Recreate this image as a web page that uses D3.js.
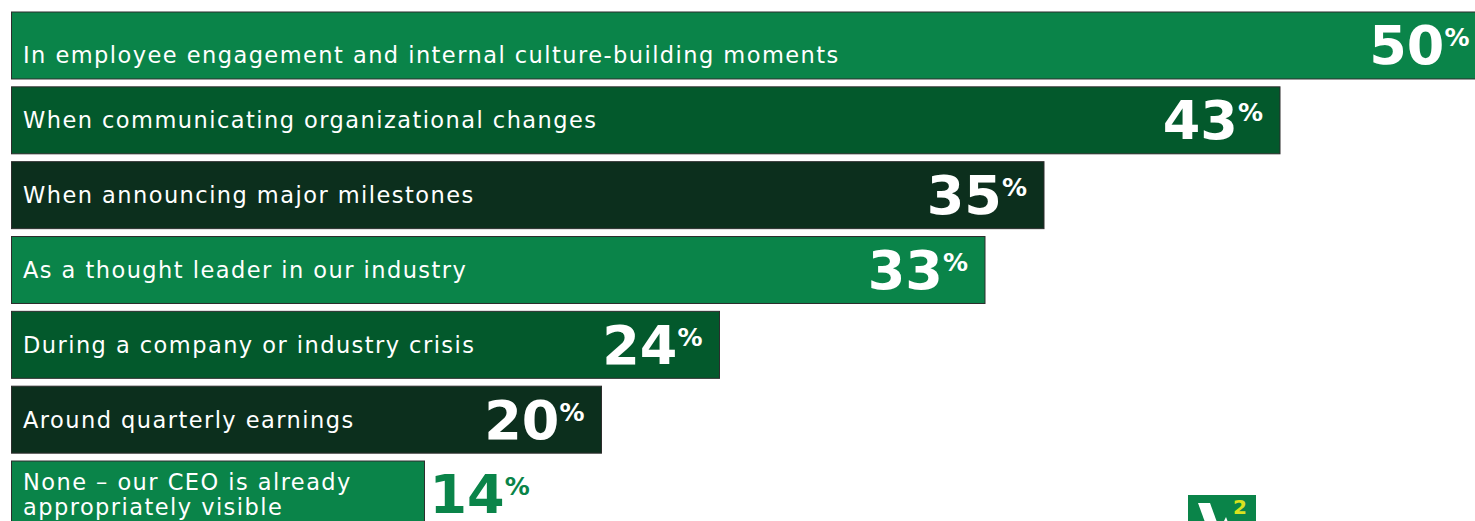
<!DOCTYPE html>
<html>
<head>
<meta charset="utf-8">
<script src="https://cdn.jsdelivr.net/npm/d3@7"></script>
<style>
  html, body { margin: 0; padding: 0; background: #ffffff; }
  svg { display: block; }
</style>
</head>
<body>
<svg id="chart" width="1475" height="521"></svg>
<script>
// Where respondents want their CEO to be more visible
const categories = [
  "In employee engagement and internal culture-building moments",
  "When communicating organizational changes",
  "When announcing major milestones",
  "As a thought leader in our industry",
  "During a company or industry crisis",
  "Around quarterly earnings",
  "None \u2013 our CEO is already appropriately visible"
];
const values = [50, 43, 35, 33, 24, 20, 14];
const labelLines = [
  ["In employee engagement and internal culture-building moments"],
  ["When communicating organizational changes"],
  ["When announcing major milestones"],
  ["As a thought leader in our industry"],
  ["During a company or industry crisis"],
  ["Around quarterly earnings"],
  ["None \u2013 our CEO is already", "appropriately visible"]
];
const palette = ["#0a8449", "#03592c", "#0c2f1d"];

const svg = d3.select("#chart");

const x = d3.scaleLinear().domain([0, 50]).range([11.5, 1486.5]);
const y = d3.scaleBand().domain(categories).range([12, 528]).paddingInner(0.105).paddingOuter(0);
const color = d3.scaleOrdinal().domain(d3.range(3)).range(palette);

const rows = categories.map((c, i) => ({ cat: c, v: values[i], lines: labelLines[i], i }));

const labelFont = "'DejaVu Sans', 'Noto Sans', sans-serif";
const valueFont = "'DejaVu Sans', 'Open Sans', sans-serif";

const g = svg.append("g");

const row = g.selectAll("g.row").data(rows).join("g").attr("class", "row");

row.append("rect")
  .attr("x", x(0))
  .attr("y", d => y(d.cat))
  .attr("width", d => x(d.v) - x(0))
  .attr("height", y.bandwidth())
  .attr("fill", d => color(d.i % 3))
  .attr("stroke", "#2d2d2d")
  .attr("stroke-width", 1);

// category labels
row.each(function(d) {
  const sel = d3.select(this);
  const cy = y(d.cat) + y.bandwidth() / 2;
  const n = d.lines.length;
  const lh = 25;
  const extra = d.i === 0 ? 10 : 0;
  d.lines.forEach((ln, k) => {
    sel.append("text")
      .attr("class", "cat")
      .attr("x", 23)
      .attr("y", cy + 8 + extra + (k - (n - 1) / 2) * lh)
      .attr("fill", "#ffffff")
      .attr("font-family", labelFont)
      .attr("font-size", 22.5)
      .attr("letter-spacing", 1.45)
      .text(ln);
  });
});

// value labels: inside the bar when there is room, otherwise just past its end
row.each(function(d) {
  const sel = d3.select(this);
  const cy = y(d.cat) + y.bandwidth() / 2;
  const labelW = d3.max(sel.selectAll("text.cat").nodes(), n => n.getComputedTextLength());
  const t = sel.append("text")
    .attr("y", cy + 19)
    .attr("font-family", valueFont)
    .attr("font-weight", 700);
  t.append("tspan").attr("font-size", 54).text(d.v);
  t.append("tspan").attr("font-size", 25).attr("dy", -18).text("%");
  const vw = t.node().getComputedTextLength();
  const inside = (x(d.v) - x(0)) > labelW + vw + 50;
  if (inside) {
    t.attr("x", x(d.v) - 17).attr("text-anchor", "end").attr("fill", "#ffffff");
  } else {
    t.attr("x", x(d.v) + 5).attr("text-anchor", "start").attr("fill", "#0a8449")
     .attr("y", y(d.cat) + 52);
  }
});

// brand mark, bottom right
const logo = svg.append("g").attr("transform", "translate(1188,495)");
logo.append("rect").attr("width", 68).attr("height", 30).attr("fill", "#0a8449");
logo.append("path").attr("d", "M10,8 L22,8 L30,30 L18,30 Z").attr("fill", "#ffffff");
logo.append("path").attr("d", "M34,30 L38,22 L41,30 Z").attr("fill", "#ffffff");
logo.append("text").attr("x", 45).attr("y", 19)
  .attr("font-family", valueFont).attr("font-weight", 700).attr("font-size", 20)
  .attr("fill", "#d8e21f").text("2");
</script>
</body>
</html>
